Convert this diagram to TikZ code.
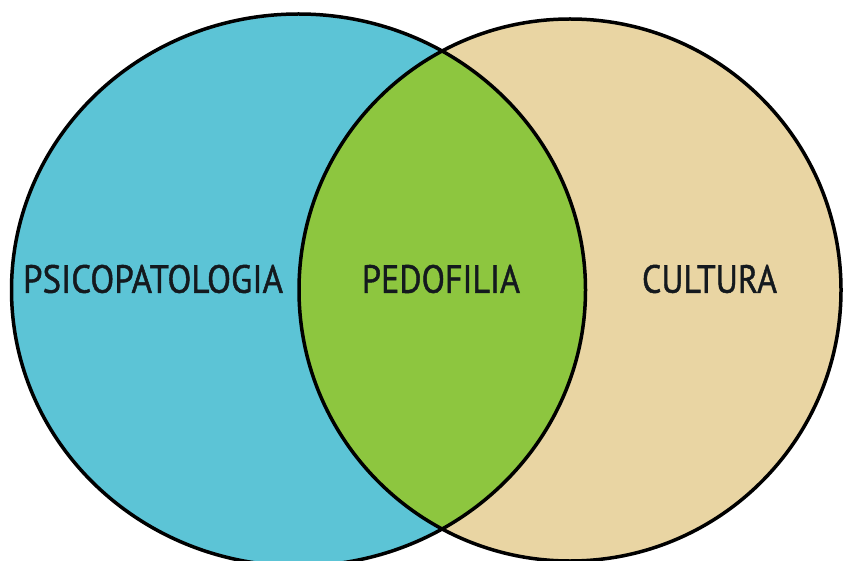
\documentclass[tikz,border=0pt]{standalone}
\usepackage{fontspec}
\setmainfont{PT Sans}
\newfontfamily\lblfont{PT Sans}[FakeBold=1.2]
\definecolor{psiblue}{RGB}{92,196,214}
\definecolor{pedgreen}{RGB}{141,198,63}
\definecolor{culbeige}{RGB}{233,213,163}
\definecolor{txt}{RGB}{20,25,30}
\begin{document}
\begin{tikzpicture}[x=1pt,y=-1pt,
  outline/.style={draw=black,line width=3.5pt},
  lbl/.style={inner sep=0pt,text=txt,font=\fontsize{40}{40}\lblfont}]
\useasboundingbox (0,0) rectangle (843,561);
\clip (0,0) rectangle (843,561);
\fill[psiblue] (298.5,290) ellipse [x radius=287, y radius=276];
\fill[culbeige] (570,290) circle [radius=271];
\begin{scope}
  \clip (298.5,290) ellipse [x radius=287, y radius=276];
  \fill[pedgreen] (570,290) circle [radius=271];
\end{scope}
\draw[outline] (298.5,290) ellipse [x radius=287, y radius=276];
\draw[outline] (570,290) circle [radius=271];
\node[lbl] (psi) at (153,279) {\resizebox{260pt}{28pt}{PSICOPATOLOGIA}};
\node[lbl] (ped) at (441,279) {\resizebox{158pt}{28pt}{PEDOFILIA}};
\node[lbl] (cul) at (709.5,279) {\resizebox{135pt}{28pt}{CULTURA}};
\end{tikzpicture}
\end{document}
